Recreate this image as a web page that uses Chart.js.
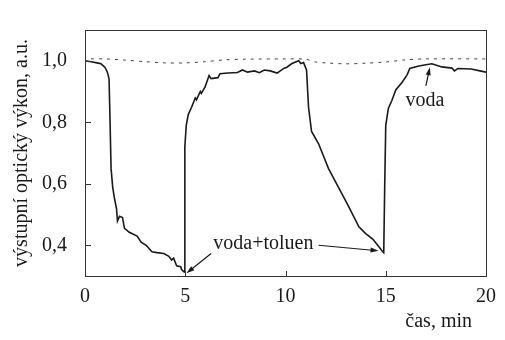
<!DOCTYPE html>
<html>
<head>
<meta charset="utf-8">
<script src="https://cdn.jsdelivr.net/npm/chart.js@4/dist/chart.umd.min.js"></script>
<style>
  html, body { margin: 0; padding: 0; background: #fff; }
  #wrap { width: 505px; height: 340px; }
</style>
</head>
<body>
<div id="wrap"><canvas id="chart" width="505" height="340"></canvas></div>
<script>
// measured signal (solid line)
const timeMin = [0, 0.3, 0.6, 0.8, 1.0, 1.1, 1.15, 1.2, 1.25, 1.3, 1.38, 1.47, 1.57, 1.62, 1.72, 1.87,
  1.97, 2.21, 2.6, 2.8, 3.05, 3.34, 3.59, 3.93, 4.18, 4.32, 4.42, 4.57, 4.77, 4.82, 4.91, 4.95,
  4.98, 5.05, 5.15, 5.31, 5.5, 5.56, 5.75, 5.8, 5.99, 6.19, 6.29, 6.63, 6.73, 7.13, 7.6,
  7.86, 8.1, 8.45, 8.7, 8.94, 9.24, 9.58, 9.93, 10.07, 10.32, 10.66, 10.76, 10.9, 11.05,
  11.15, 11.3, 11.65, 12.14, 12.63, 13.12, 13.66, 14.0, 14.35, 14.6, 14.84, 14.9,
  14.95, 15.0, 15.13, 15.3, 15.5, 15.82, 16.07, 16.2, 16.6, 17.0, 17.3, 17.8, 18.3,
  18.43, 18.6, 19.26, 19.7, 20.0];
const signal = [1.0, 0.997, 0.993, 0.99, 0.978, 0.965, 0.955, 0.94, 0.80, 0.65, 0.59, 0.552, 0.52, 0.479, 0.494, 0.49,
  0.455, 0.442, 0.43, 0.41, 0.40, 0.379, 0.376, 0.373, 0.364, 0.352, 0.358, 0.333, 0.33, 0.321, 0.315, 0.313,
  0.72, 0.79, 0.825, 0.848, 0.879, 0.873, 0.90, 0.894, 0.915, 0.952, 0.942, 0.945, 0.958, 0.96, 0.962,
  0.97, 0.963, 0.967, 0.961, 0.97, 0.967, 0.96, 0.976, 0.979, 0.991, 1.0, 0.991, 0.994, 0.97,
  0.848, 0.77, 0.73, 0.65, 0.59, 0.53, 0.46, 0.438, 0.42, 0.40, 0.38, 0.376,
  0.60, 0.79, 0.845, 0.87, 0.905, 0.93, 0.955, 0.975, 0.982, 0.987, 0.99, 0.98, 0.976,
  0.967, 0.975, 0.973, 0.967, 0.963];

// reference level (dashed line)
const refTime = [0.3, 1, 2, 3, 4, 5, 6, 7, 8, 10, 11, 11.5, 12, 13, 14, 15, 16, 17, 20];
const refSignal = [1.006, 1.006, 1.002, 0.997, 0.993, 0.993, 0.997, 1.003, 1.005, 1.006, 1.005, 0.996,
  0.993, 0.99, 0.992, 0.996, 1.003, 1.006, 1.006];

const xTicks = [0, 5, 10, 15, 20];
const yTicks = [0.4, 0.6, 0.8, 1.0];

const FONT = '"Liberation Serif", "Times New Roman", serif';
const INK = '#1a1a1a';

// annotations: text at (x, y), arrow from -> to, all in data units
const notes = [
  { text: 'voda+toluen', x: 6.4, y: 0.405, align: 'left' },
  { text: 'voda', x: 16.95, y: 0.87, align: 'center' }
];
const arrows = [
  { from: [6.29, 0.373], to: [5.06, 0.309] },
  { from: [11.65, 0.40], to: [14.64, 0.382] },
  { from: [17.0, 0.918], to: [17.2, 0.979] }
];

const frame = {
  id: 'frame',
  afterDatasetsDraw(chart) {
    const { ctx, chartArea: a, scales: { x, y } } = chart;
    ctx.save();
    ctx.strokeStyle = '#333';
    ctx.lineWidth = 1;
    ctx.strokeRect(a.left + 0.5, a.top + 0.5, a.right - a.left, a.bottom - a.top);

    // inward tick marks
    ctx.beginPath();
    yTicks.forEach(v => {
      const py = Math.round(y.getPixelForValue(v)) + 0.5;
      ctx.moveTo(a.left, py);
      ctx.lineTo(a.left + 6, py);
    });
    xTicks.slice(1, -1).forEach(v => {
      const px = Math.round(x.getPixelForValue(v)) + 0.5;
      ctx.moveTo(px, a.bottom);
      ctx.lineTo(px, a.bottom - 5);
    });
    ctx.stroke();

    // labels + arrows
    ctx.fillStyle = INK;
    ctx.font = '20px ' + FONT;
    ctx.textBaseline = 'middle';
    notes.forEach(n => {
      ctx.textAlign = n.align;
      ctx.fillText(n.text, x.getPixelForValue(n.x), y.getPixelForValue(n.y));
    });

    ctx.strokeStyle = INK;
    ctx.lineWidth = 1.2;
    arrows.forEach(ar => {
      const x0 = x.getPixelForValue(ar.from[0]), y0 = y.getPixelForValue(ar.from[1]);
      const x1 = x.getPixelForValue(ar.to[0]), y1 = y.getPixelForValue(ar.to[1]);
      const ang = Math.atan2(y1 - y0, x1 - x0);
      ctx.beginPath();
      ctx.moveTo(x0, y0);
      ctx.lineTo(x1 - 6 * Math.cos(ang), y1 - 6 * Math.sin(ang));
      ctx.stroke();
      ctx.beginPath();
      ctx.moveTo(x1, y1);
      ctx.lineTo(x1 - 8 * Math.cos(ang) + 2.5 * Math.sin(ang), y1 - 8 * Math.sin(ang) - 2.5 * Math.cos(ang));
      ctx.lineTo(x1 - 8 * Math.cos(ang) - 2.5 * Math.sin(ang), y1 - 8 * Math.sin(ang) + 2.5 * Math.cos(ang));
      ctx.closePath();
      ctx.fill();
    });

    // x axis title, right side under the axis
    ctx.textAlign = 'right';
    ctx.fillText('čas, min', a.right - 14, 322);
    ctx.restore();
  }
};

new Chart(document.getElementById('chart'), {
  type: 'line',
  data: {
    datasets: [
      {
        data: timeMin.map((t, i) => ({ x: t, y: signal[i] })),
        borderColor: INK,
        borderWidth: 1.6,
        pointRadius: 0,
        tension: 0
      },
      {
        data: refTime.map((t, i) => ({ x: t, y: refSignal[i] })),
        borderColor: '#444',
        borderWidth: 1,
        borderDash: [3, 5],
        pointRadius: 0,
        tension: 0.3
      }
    ]
  },
  options: {
    responsive: false,
    animation: false,
    devicePixelRatio: 1,
    layout: { padding: { left: 0, right: 13, top: 12, bottom: 0 } },
    plugins: { legend: { display: false }, tooltip: { enabled: false } },
    scales: {
      x: {
        type: 'linear',
        min: 0,
        max: 20,
        afterBuildTicks: s => { s.ticks = xTicks.map(v => ({ value: v })); },
        afterFit: s => { s.height = 64; },
        grid: { display: false, drawTicks: false },
        border: { display: false },
        ticks: { color: INK, padding: 9, font: { family: FONT, size: 20 }, maxRotation: 0 }
      },
      y: {
        min: 0.3,
        max: 1.1,
        afterBuildTicks: s => { s.ticks = yTicks.map(v => ({ value: v })); },
        afterFit: s => { s.width = 85; },
        grid: { display: false, drawTicks: false },
        border: { display: false },
        ticks: {
          color: INK,
          padding: 18,
          font: { family: FONT, size: 20 },
          callback: v => v.toFixed(1).replace('.', ',')
        },
        title: {
          display: true,
          text: 'výstupní optický výkon, a.u.',
          color: INK,
          font: { family: FONT, size: 20 },
          padding: { top: 10, bottom: 0 }
        }
      }
    }
  },
  plugins: [frame]
});
</script>
</body>
</html>
